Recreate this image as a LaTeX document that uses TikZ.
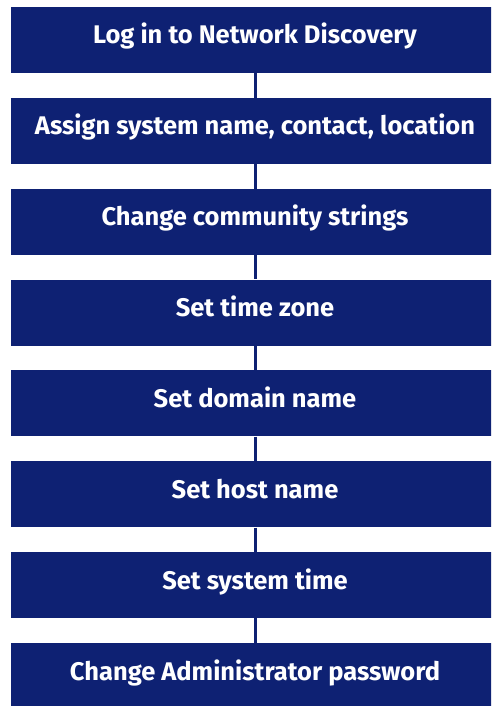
\documentclass[tikz,border=0pt]{standalone}
\usepackage{fontspec}
\setmainfont{Fira Sans}
\definecolor{navy}{RGB}{14,33,115}
\tikzset{
  stepbox/.style={fill=navy, draw=none, minimum width=488pt, minimum height=66pt,
    inner sep=0pt, text height=17pt, text depth=9pt, text=white,
    font=\fontsize{25.5}{28}\selectfont\bfseries},
  link/.style={draw=navy, line width=3pt}
}
\begin{document}
\begin{tikzpicture}[x=1pt,y=1pt]
  \clip (0,0) rectangle (491,-706);
  \fill[white] (0,0) rectangle (491,-706);
  \foreach \t [count=\i from 0] in {Log in to Network Discovery,
      {Assign system name, contact, location},
      Change community strings, Set time zone, Set domain name,
      Set host name, Set system time, Change Administrator password}{
    \node[stepbox] (s\i) at (255,{-40-90.86*\i}) {\t};
  }
  \foreach \a/\b in {0/1,1/2,2/3,3/4,4/5,5/6,6/7}{
    \draw[link] (s\a.south) -- (s\b.north);
  }
\end{tikzpicture}
\end{document}
